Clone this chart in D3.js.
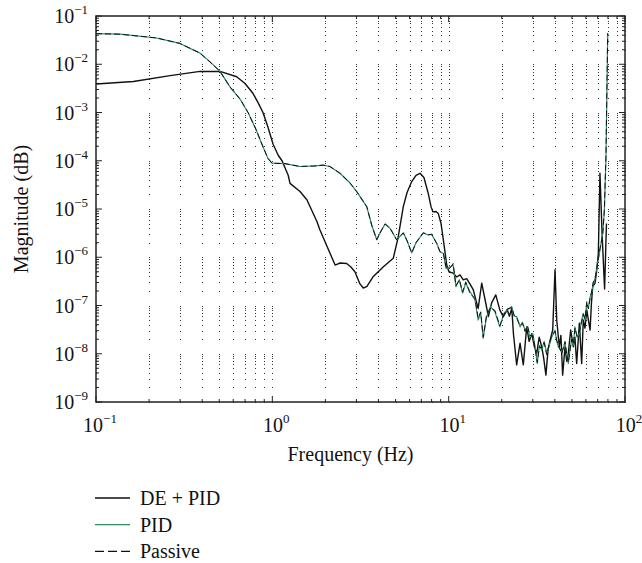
<!DOCTYPE html>
<html>
<head>
<meta charset="utf-8">
<script src="https://cdn.jsdelivr.net/npm/d3@7"></script>
<style>
  body { margin: 0; background: #fff; }
  text { font-family: "Liberation Serif", "Times New Roman", serif; fill: #111; }
</style>
</head>
<body>
<svg width="642" height="563"></svg>
<script>
// [frequency (Hz), magnitude]
var dePid = [[0.1,3.9e-3],[0.163,4.4e-3],[0.263,5.8e-3],[0.389,7.1e-3],[0.505,7.1e-3],[0.628,5.5e-3],
  [0.70,4.0e-3],[0.776,2.5e-3],[0.83,1.6e-3],[0.885,1.0e-3],[0.944,5.0e-4],[1.01,2.2e-4],[1.08,1.3e-4],
  [1.135,1.0e-4],[1.23,5.0e-5],[1.26,3.4e-5],[1.435,2.3e-5],[1.57,1.55e-5],[1.79,5.5e-6],[1.86,3.7e-6],
  [2.27,6.9e-7],[2.42,7.6e-7],[2.64,7.4e-7],[2.79,6.3e-7],[2.94,5.0e-7],[3.14,2.8e-7],[3.28,2.3e-7],
  [3.44,2.5e-7],[3.74,4.0e-7],[4.25,6.3e-7],[4.85,9.5e-7],[5.16,2.5e-6],[5.53,1.12e-5],[5.81,2.2e-5],
  [6.17,3.7e-5],[6.53,5.0e-5],[6.88,5.5e-5],[7.24,4.5e-5],[7.66,2.1e-5],[7.94,1.12e-5],[8.15,8.7e-6],
  [8.47,8.9e-6],[8.73,8.1e-6],[9.05,5.0e-6],[9.33,2.3e-6],[9.75,6.9e-7],[10.04,5.0e-7],[10.6,4.7e-7],
  [11.1,3.9e-7],[11.6,4.3e-7],[12.1,3.4e-7],[12.65,3.6e-7],[13.2,2.8e-7],[13.8,2.1e-7],[14.3,1.26e-7],
  [14.7,8.7e-8],[15.4,2.9e-7],[16.1,1.3e-7],[16.8,5.9e-8],[17.5,1.12e-7],[18.5,1.66e-7],[19.5,8.1e-8],
  [20.4,5.9e-8],[21.5,8.1e-8],[22.1,6.0e-8],[22.8,8.7e-8],[23.3,2.6e-8],[24.3,5.9e-9],[25.4,1.66e-8],
  [26.5,5.9e-9],[27.7,3.6e-8],[28.6,1.8e-8],[29.6,2.6e-8],[30.6,1.4e-8],[31.6,1.02e-8],[32.6,2.2e-8],
  [33.7,1.4e-8],[34.6,8.0e-9],[35.6,3.6e-9],[36.6,1.2e-8],[37.6,1.9e-8],[38.9,3.1e-8],[40.1,5.5e-7],
  [41.0,5.0e-8],[42.4,1.4e-8],[43.3,2.4e-8],[44.3,3.6e-9],[45.7,1.4e-8],[46.7,7.0e-9],[47.7,1.02e-8],
  [49.2,3.1e-8],[50.9,1.4e-8],[52.0,2.2e-8],[53.2,6.3e-9],[55.1,4.3e-8],[56.8,6.3e-9],[58.0,5.0e-8],
  [59.3,3.4e-8],[60.7,8.1e-8],[62.0,5.0e-8],[63.4,3.1e-8],[64.5,1.1e-7],[65.6,2.45e-7],[67.6,2.9e-7],
  [69.0,5.0e-7],[70.6,1.2e-6],[72.1,5.5e-5],[74.1,3.2e-6],[76.6,2.2e-7],[78.5,5.0e-6]];

var pid = [[0.1,4.3e-2],[0.137,4.2e-2],[0.221,3.5e-2],[0.299,2.7e-2],[0.389,1.7e-2],[0.443,1.12e-2],
  [0.505,7.1e-3],[0.575,3.4e-3],[0.656,1.9e-3],[0.728,1.0e-3],[0.807,4.5e-4],[0.873,2.2e-4],
  [0.944,1.12e-4],[0.995,8.9e-5],[1.18,8.7e-5],[1.435,7.6e-5],[1.745,7.8e-5],[1.94,8.1e-5],[2.12,7.6e-5],
  [2.42,5.5e-5],[2.75,3.5e-5],[3.01,2.3e-5],[3.43,1.12e-5],[3.67,4.5e-6],[3.91,2.3e-6],[4.08,3.2e-6],
  [4.36,4.9e-6],[4.65,4.0e-6],[5.07,2.3e-6],[5.53,3.2e-6],[5.81,2.2e-6],[6.17,1.23e-6],[6.53,2.0e-6],
  [7.18,3.2e-6],[7.66,2.9e-6],[8.0,3.0e-6],[8.55,1.95e-6],[8.93,1.3e-6],[9.33,1.2e-6],[9.66,5.9e-7],
  [10.2,6.3e-7],[10.6,6.9e-7],[11.0,2.45e-7],[11.5,3.4e-7],[12.0,1.8e-7],[12.5,2.9e-7],[13.2,1.95e-7],
  [14.1,1.3e-7],[14.7,5.0e-8],[15.2,6.9e-8],[15.7,2.1e-8],[16.4,5.9e-8],[17.3,9.5e-8],[18.3,7.4e-8],
  [19.5,3.6e-8],[20.6,6.9e-8],[21.5,8.1e-8],[22.8,9.5e-8],[23.5,6.0e-8],[24.3,5.9e-8],[25.4,3.6e-8],
  [26.2,4.5e-8],[27.1,3.1e-8],[28.0,3.6e-8],[28.9,2.2e-8],[30.0,2.6e-8],[30.9,1.4e-8],[31.8,6.3e-9],
  [32.7,1.5e-8],[33.7,1.2e-8],[34.8,1.8e-8],[36.0,1.02e-8],[37.2,1.5e-8],[38.4,2.2e-8],[40.1,3.1e-8],
  [41.0,1.8e-8],[41.9,1.4e-8],[43.8,1.1e-8],[45.7,1.66e-8],[46.7,1.0e-8],[47.7,6.3e-9],[48.8,1.3e-8],
  [49.9,1.9e-8],[51.0,1.5e-8],[52.0,3.6e-8],[53.5,2.2e-8],[55.1,2.6e-8],[56.5,4.5e-8],[58.0,6.9e-8],
  [59.3,5.0e-8],[60.7,1.12e-7],[62.0,9.0e-8],[63.4,1.5e-7],[64.8,1.9e-7],[66.1,2.9e-7],[67.6,3.6e-7],
  [69.2,6.3e-7],[70.6,9.0e-7],[72.1,1.4e-6],[74.8,3.2e-6],[76.4,9.5e-6],[78.0,1.2e-4],[79.8,4.4e-2]];

var passive = [[0.1,4.3e-2],[0.137,4.2e-2],[0.221,3.5e-2],[0.299,2.7e-2],[0.389,1.7e-2],[0.443,1.12e-2],
  [0.505,7.1e-3],[0.575,3.4e-3],[0.656,1.9e-3],[0.728,1.0e-3],[0.807,4.5e-4],[0.873,2.2e-4],
  [0.944,1.12e-4],[0.995,8.9e-5],[1.18,8.7e-5],[1.435,7.6e-5],[1.745,7.8e-5],[1.94,8.1e-5],[2.12,7.6e-5],
  [2.42,5.5e-5],[2.75,3.5e-5],[3.01,2.3e-5],[3.43,1.12e-5],[3.67,4.5e-6],[3.91,2.3e-6],[4.08,3.2e-6],
  [4.36,4.9e-6],[4.65,4.0e-6],[5.07,2.3e-6],[5.53,3.2e-6],[5.81,2.2e-6],[6.17,1.23e-6],[6.53,2.0e-6],
  [7.18,3.2e-6],[7.66,2.9e-6],[8.0,3.0e-6],[8.55,1.95e-6],[8.93,1.3e-6],[9.33,1.2e-6],[9.66,6.3e-7],
  [10.2,6.0e-7],[10.6,7.4e-7],[11.0,2.6e-7],[11.5,3.4e-7],[12.0,1.9e-7],[12.5,3.1e-7],[13.2,1.8e-7],
  [14.1,1.4e-7],[14.7,5.5e-8],[15.2,7.4e-8],[15.7,2.2e-8],[16.4,6.3e-8],[17.3,9.0e-8],[18.3,7.9e-8],
  [19.5,3.8e-8],[20.6,6.6e-8],[21.5,8.5e-8],[22.8,9.0e-8],[23.5,6.3e-8],[24.3,5.5e-8],[25.4,3.8e-8],
  [26.2,4.3e-8],[27.1,2.9e-8],[28.0,3.8e-8],[28.9,2.4e-8],[30.0,2.4e-8],[30.9,1.3e-8],[31.8,6.6e-9],
  [32.7,1.4e-8],[33.7,1.3e-8],[34.8,1.7e-8],[36.0,9.5e-9],[37.2,1.6e-8],[38.4,2.4e-8],[40.1,2.9e-8],
  [41.0,1.9e-8],[41.9,1.5e-8],[43.8,1.0e-8],[45.7,1.8e-8],[46.7,9.5e-9],[47.7,6.6e-9],[48.8,1.2e-8],
  [49.9,2.0e-8],[51.0,1.6e-8],[52.0,3.4e-8],[53.5,2.3e-8],[55.1,2.8e-8],[56.5,4.3e-8],[58.0,6.6e-8],
  [59.3,5.3e-8],[60.7,1.2e-7],[62.0,8.5e-8],[63.4,1.4e-7],[64.8,2.0e-7],[66.1,3.1e-7],[67.6,3.4e-7],
  [69.2,5.9e-7],[70.6,9.5e-7],[72.1,1.5e-6],[74.8,3.0e-6],[76.4,1.0e-5],[78.0,1.3e-4],[79.8,4.4e-2]];

var xMajor = [0.1, 1, 10, 100];
var yMajor = [1e-9, 1e-8, 1e-7, 1e-6, 1e-5, 1e-4, 1e-3, 1e-2, 1e-1];
var legendLabels = ["DE + PID", "PID", "Passive"];

var svg = d3.select("svg"),
    margin = {top: 16, right: 17, bottom: 161, left: 96},
    width = +svg.attr("width") - margin.left - margin.right,
    height = +svg.attr("height") - margin.top - margin.bottom,
    g = svg.append("g")
           .attr("transform", "translate(" + margin.left + "," + margin.top + ")");

var x = d3.scaleLog().domain([0.1, 100]).range([0, width]);
var y = d3.scaleLog().domain([1e-9, 1e-1]).range([height, 0]);

var xAll = x.ticks(), yAll = y.ticks();
function isMajor(v) { return Math.abs(Math.log10(v) - Math.round(Math.log10(v))) < 1e-6; }

// dotted grid: shows up as dots where the minor grid lines cross
var cross = d3.cross(xAll, yAll);
g.append("g").attr("fill", "#333").attr("shape-rendering", "crispEdges")
  .selectAll("rect").data(cross).enter().append("rect")
    .attr("x", d => Math.round(x(d[0])) - 0.5)
    .attr("y", d => Math.round(y(d[1])) - 0.5)
    .attr("width", 1).attr("height", 1);

// inward ticks on all four sides
var ticks = g.append("g").attr("stroke", "#222").attr("stroke-width", 1);
xAll.forEach(function(d) {
  var len = isMajor(d) ? 6 : 3;
  ticks.append("line").attr("x1", x(d)).attr("x2", x(d)).attr("y1", height).attr("y2", height - len);
  ticks.append("line").attr("x1", x(d)).attr("x2", x(d)).attr("y1", 0).attr("y2", len);
});
yAll.forEach(function(d) {
  var len = isMajor(d) ? 6 : 3;
  ticks.append("line").attr("y1", y(d)).attr("y2", y(d)).attr("x1", 0).attr("x2", len);
  ticks.append("line").attr("y1", y(d)).attr("y2", y(d)).attr("x1", width).attr("x2", width - len);
});

var line = d3.line()
    .x(function(d) { return x(d[0]); })
    .y(function(d) { return y(d[1]); });

g.append("path").datum(dePid).attr("d", line)
    .attr("fill", "none").attr("stroke", "#111").attr("stroke-width", 1.4).attr("stroke-linejoin", "round");
g.append("path").datum(pid).attr("d", line)
    .attr("fill", "none").attr("stroke", "#2a9060").attr("stroke-width", 1.2).attr("stroke-linejoin", "round");
g.append("path").datum(passive).attr("d", line)
    .attr("fill", "none").attr("stroke", "#111").attr("stroke-width", 1)
    .attr("stroke-dasharray", "6,3").attr("stroke-linejoin", "round");

// frame
g.append("rect").attr("width", width).attr("height", height)
    .attr("fill", "none").attr("stroke", "#222").attr("stroke-width", 1.5);

// tick labels 10^n
function powLabel(sel, v) {
  var e = Math.round(Math.log10(v));
  sel.append("tspan").text("10");
  sel.append("tspan").attr("dy", -9).attr("font-size", 13).text(e < 0 ? "\u2212" + (-e) : e);
}
yMajor.forEach(function(v) {
  var t = g.append("text").attr("x", -8).attr("y", y(v) + 7)
      .attr("text-anchor", "end").attr("font-size", 20);
  powLabel(t, v);
});
xMajor.forEach(function(v) {
  var t = g.append("text").attr("x", x(v) + 4).attr("y", height + 30)
      .attr("text-anchor", "middle").attr("font-size", 20);
  powLabel(t, v);
});

g.append("text").attr("x", width / 2 - 10).attr("y", height + 59)
    .attr("text-anchor", "middle").attr("font-size", 20).text("Frequency (Hz)");
g.append("text").attr("transform", "translate(-68," + (height / 2) + ") rotate(-90)")
    .attr("text-anchor", "middle").attr("font-size", 20).text("Magnitude (dB)");

// legend
var legend = svg.append("g").attr("transform", "translate(95,498)");
var styles = [{c: "#111", d: null}, {c: "#2a9060", d: null}, {c: "#111", d: "9,4"}];
legendLabels.forEach(function(name, i) {
  var row = legend.append("g").attr("transform", "translate(0," + (i * 26.7) + ")");
  row.append("line").attr("x1", 0).attr("x2", 35)
      .attr("stroke", styles[i].c).attr("stroke-width", 1.3)
      .attr("stroke-dasharray", styles[i].d);
  row.append("text").attr("x", 45).attr("y", 7).attr("font-size", 20).text(name);
});
</script>
</body>
</html>
